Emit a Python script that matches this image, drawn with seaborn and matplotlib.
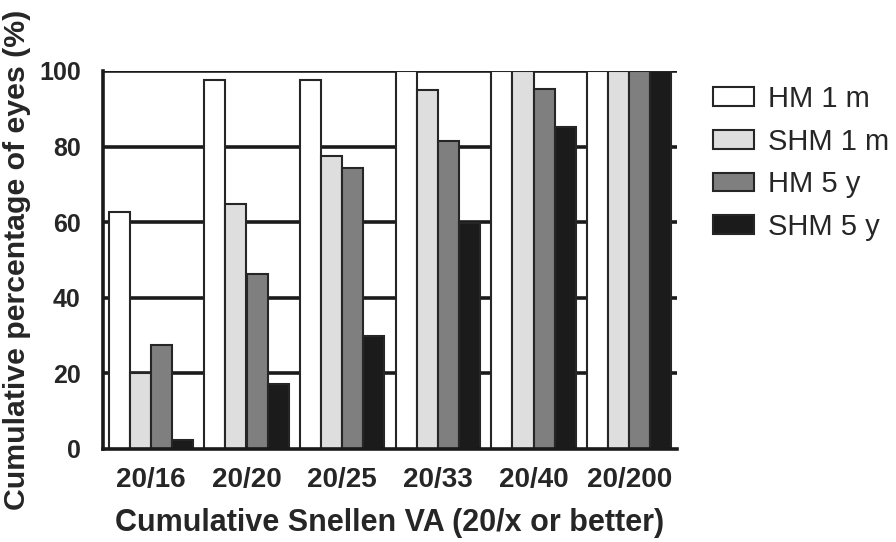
import matplotlib
matplotlib.use("Agg")
import matplotlib.pyplot as plt
import seaborn as sns
import pandas as pd
from matplotlib.patches import Patch

categories = ["20/16", "20/20", "20/25", "20/33", "20/40", "20/200"]
series = ["HM 1 m", "SHM 1 m", "HM 5 y", "SHM 5 y"]
hm_1m = [62.6, 97.5, 97.5, 100, 100, 100]
shm_1m = [20.0, 64.8, 77.4, 95.1, 100, 100]
hm_5y = [27.6, 46.2, 74.4, 81.4, 95.3, 100]
shm_5y = [2.3, 17.3, 29.8, 59.7, 85.2, 100]
colors = ["#ffffff", "#dedede", "#7f7f7f", "#1b1b1b"]

rows = []
for name, vals in zip(series, [hm_1m, shm_1m, hm_5y, shm_5y]):
    for c, v in zip(categories, vals):
        rows.append({"VA": c, "Group": name, "Pct": v})
df = pd.DataFrame(rows)

sns.set_style("white")
plt.rcParams["font.family"] = ["Liberation Sans", "DejaVu Sans"]

fig = plt.figure(figsize=(8.96, 5.42), dpi=100)
ax = fig.add_axes([103 / 896, 1 - 449 / 542, 574 / 896, 378 / 542])

sns.barplot(data=df, x="VA", y="Pct", hue="Group", order=categories,
            hue_order=series, palette=colors, width=0.88, gap=0,
            edgecolor="#262626", linewidth=1.5, saturation=1,
            errorbar=None, legend=False, ax=ax, zorder=3)

for yv in [20, 40, 60, 80, 100]:
    ax.axhline(yv, color="#1a1a1a", lw=2.6, zorder=1)

ax.set_xlim(-0.5, 5.5)
ax.set_ylim(0, 100)
ax.set_yticks([0, 20, 40, 60, 80, 100])
ax.set_xticks(range(len(categories)))
ax.set_xticklabels(categories)

for s in ["top", "right"]:
    ax.spines[s].set_visible(False)
for s in ["left", "bottom"]:
    ax.spines[s].set_linewidth(2.6)
    ax.spines[s].set_color("#1a1a1a")
    ax.spines[s].set_zorder(4)

ax.tick_params(axis="y", direction="out", length=8, width=2.2, color="#1a1a1a",
               labelsize=18, pad=8)
ax.tick_params(axis="x", direction="out", length=7, width=2.2, color="#1a1a1a",
               labelsize=20, pad=6)
for lbl in ax.get_xticklabels() + ax.get_yticklabels():
    lbl.set_fontweight("bold")

ax.set_xlabel("Cumulative Snellen VA (20/x or better)", fontsize=22,
              fontweight="bold", labelpad=11)
ax.set_ylabel("Cumulative percentage of eyes (%)", fontsize=21.8,
              fontweight="bold", labelpad=6)

handles = [Patch(facecolor=c, edgecolor="#262626", linewidth=1.5) for c in colors]
fig.legend(handles, series, loc="upper left", bbox_to_anchor=(713 / 896, 1 - 85 / 542),
           frameon=False, fontsize=21, handlelength=1.42, handleheight=0.6,
           labelspacing=0.5, handletextpad=0.45, borderaxespad=0, borderpad=0)

fig.savefig("out.png", dpi=100)
